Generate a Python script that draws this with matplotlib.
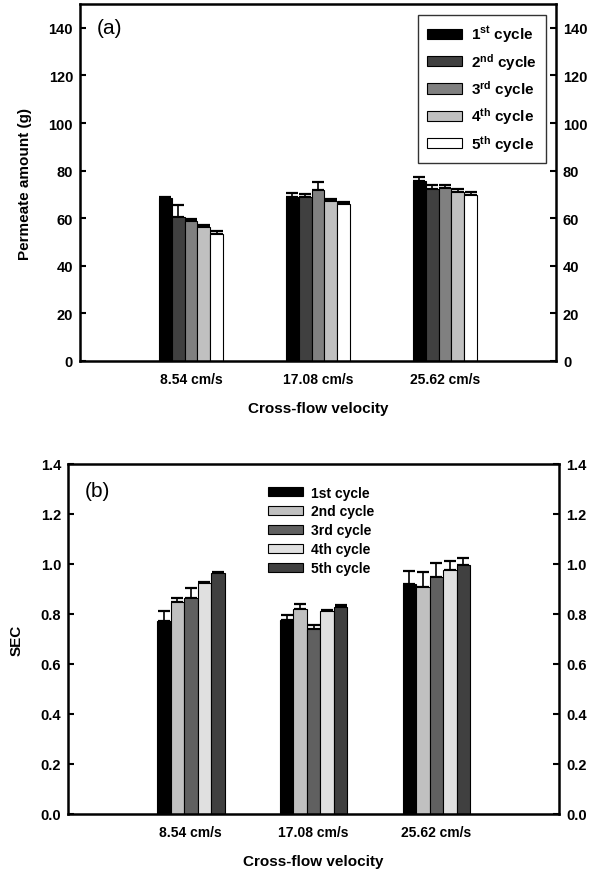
import numpy as np
import matplotlib
matplotlib.use("Agg")
import matplotlib.pyplot as plt

plt.rcParams["font.family"] = ["Liberation Sans", "DejaVu Sans"]
plt.rcParams["mathtext.fontset"] = "custom"
plt.rcParams["mathtext.rm"] = "Liberation Sans:bold"
plt.rcParams["mathtext.it"] = "Liberation Sans:bold"
plt.rcParams["mathtext.bf"] = "Liberation Sans:bold"

categories = ["8.54 cm/s", "17.08 cm/s", "25.62 cm/s"]

# (a) permeate amount (g), rows = cycles 1..5, cols = velocity
perm = [
    [68.4, 68.9, 75.5],
    [60.6, 68.8, 72.3],
    [58.7, 71.7, 72.7],
    [56.3, 67.4, 70.9],
    [53.4, 66.0, 69.9],
]
perm_err = [
    [0.5, 1.8, 1.9],
    [5.0, 1.5, 1.8],
    [1.1, 3.6, 1.2],
    [0.8, 0.8, 1.5],
    [1.4, 0.9, 1.1],
]
labels_a = [r"1$^{st}$ cycle", r"2$^{nd}$ cycle", r"3$^{rd}$ cycle",
            r"4$^{th}$ cycle", r"5$^{th}$ cycle"]
colors_a = ["#000000", "#404040", "#808080", "#c0c0c0", "#ffffff"]

# (b) SEC
sec = [
    [0.772, 0.777, 0.921],
    [0.849, 0.821, 0.909],
    [0.863, 0.739, 0.947],
    [0.923, 0.811, 0.976],
    [0.963, 0.828, 0.996],
]
sec_err = [
    [0.040, 0.018, 0.052],
    [0.014, 0.019, 0.058],
    [0.040, 0.018, 0.057],
    [0.004, 0.003, 0.037],
    [0.003, 0.008, 0.028],
]
labels_b = ["1st cycle", "2nd cycle", "3rd cycle", "4th cycle", "5th cycle"]
colors_b = ["#000000", "#c0c0c0", "#606060", "#e0e0e0", "#404040"]


def draw_panel(ax, vals, errs, colors, labels, width, xlim, ylim, yticks, yfmt):
    x = np.arange(1, len(categories) + 1)
    n = len(vals)
    handles = []
    for i in range(n):
        pos = x + (i - (n - 1) / 2) * width
        v = np.array(vals[i])
        e = np.array(errs[i])
        h = ax.bar(pos, v, width, color=colors[i], edgecolor="black", lw=0.8,
                   label=labels[i], zorder=2)
        ax.errorbar(pos, v, yerr=[np.zeros_like(e), e], fmt="none",
                    ecolor="black", elinewidth=1.2, capsize=4, capthick=1.6,
                    zorder=1)
        handles.append(h)
    ax.set_xlim(*xlim)
    ax.set_ylim(*ylim)
    ax.set_xticks(x)
    ax.set_xticklabels(categories, fontsize=10, fontweight="bold")
    ax.tick_params(axis="x", length=0, pad=8)
    ax.set_yticks(yticks)
    ax.set_yticklabels([yfmt.format(t) for t in yticks], fontsize=10.5,
                       fontweight="bold")
    ax.tick_params(axis="y", direction="in", left=True, right=True,
                   labelleft=True, labelright=True, length=4, width=1.5, pad=5)
    for s in ax.spines.values():
        s.set_linewidth(1.8)
    ax.set_xlabel("Cross-flow velocity", fontsize=11, fontweight="bold",
                  labelpad=11)
    return handles


fig = plt.figure(figsize=(6.02, 8.78), dpi=100)

ax1 = fig.add_axes([0.1329, 0.5877, 0.7907, 0.4066])
h1 = draw_panel(ax1, perm, perm_err, colors_a, labels_a, 0.102,
                (0.126, 3.874), (0, 150), np.arange(0, 141, 20), "{:.0f}")
ax1.set_ylabel("Permeate amount (g)", fontsize=11, fontweight="bold",
               labelpad=12)
ax1.text(0.035, 0.935, "(a)", transform=ax1.transAxes, fontsize=15,
         va="center", ha="left")
leg1 = ax1.legend(handles=h1, loc="upper right", bbox_to_anchor=(0.98, 0.97),
                  prop={"size": 11, "weight": "bold"}, frameon=True,
                  fancybox=False, edgecolor="black",
                  handlelength=2.3, handleheight=0.65, labelspacing=0.42,
                  handletextpad=0.6, borderpad=0.6, borderaxespad=0.0)
leg1.get_frame().set_linewidth(1.0)

ax2 = fig.add_axes([0.113, 0.0718, 0.8156, 0.3986])
h2 = draw_panel(ax2, sec, sec_err, colors_b, labels_b, 0.11,
                (0, 4), (0, 1.4), np.round(np.arange(0, 1.41, 0.2), 1),
                "{:.1f}")
ax2.set_ylabel("SEC", fontsize=11, fontweight="bold", labelpad=12)
ax2.text(0.035, 0.925, "(b)", transform=ax2.transAxes, fontsize=15,
         va="center", ha="left")
leg2 = ax2.legend(handles=h2, loc="upper left", bbox_to_anchor=(0.385, 0.97),
                  prop={"size": 10, "weight": "bold"}, frameon=False,
                  handlelength=2.5, handleheight=0.6, labelspacing=0.35,
                  handletextpad=0.6, borderpad=0.3)

fig.savefig("out.png", dpi=100, facecolor="white")
